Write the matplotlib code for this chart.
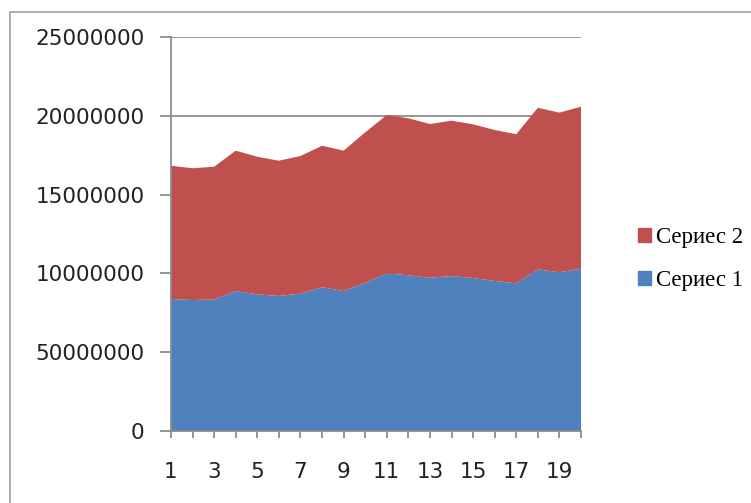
import matplotlib
matplotlib.use("Agg")
import matplotlib.pyplot as plt
import matplotlib.patches as mpatches
import numpy as np

# -------------------------------
# Data
# -------------------------------
points = list(range(1, 21))
series1 = [8.38e6, 8.31e6, 8.35e6, 8.88e6, 8.67e6, 8.57e6, 8.72e6, 9.12e6, 8.88e6, 9.41e6,
           10.0e6, 9.88e6, 9.73e6, 9.83e6, 9.71e6, 9.52e6, 9.37e6, 10.26e6, 10.07e6, 10.30e6]
total = [16.83e6, 16.67e6, 16.77e6, 17.79e6, 17.40e6, 17.15e6, 17.45e6, 18.10e6, 17.79e6, 18.95e6,
         20.05e6, 19.84e6, 19.48e6, 19.69e6, 19.46e6, 19.10e6, 18.83e6, 20.51e6, 20.20e6, 20.58e6]
series2 = [t - s for t, s in zip(total, series1)]
series_names = ["Сериес 1", "Сериес 2"]
y_ticks = [0, 5000000, 10000000, 15000000, 20000000, 25000000]
y_tick_labels = ["0", "50000000", "10000000", "15000000", "20000000", "25000000"]
x_tick_labels = [str(p) if p % 2 == 1 else "" for p in points]

blue = "#4F81BD"
red = "#C0504D"
grid_gray = "#8C8C8C"

# -------------------------------
# Figure
# -------------------------------
W, H = 751, 503
fig = plt.figure(figsize=(W / 100, H / 100), dpi=100)

# outer chart border (cut off on the right and bottom)
border = mpatches.Rectangle((10 / W, -0.1), 1.2, 1 - 12 / H + 0.1, transform=fig.transFigure,
                            fill=False, edgecolor="#A6A6A6", linewidth=1.3)
fig.patches.append(border)

ax = fig.add_axes([171 / W, (H - 431) / H, 410 / W, 394 / H])
ax.stackplot(points, series1, series2, colors=[blue, red], labels=series_names, linewidth=0)

ax.set_xlim(1, 20)
ax.set_ylim(0, 25000000)
ax.set_yticks(y_ticks)
ax.set_yticklabels(y_tick_labels)
ax.set_xticks(points)
ax.set_xticklabels(x_tick_labels)

ax.set_axisbelow(True)
ax.yaxis.grid(True, color=grid_gray, linewidth=1.3)
for side in ["top", "right"]:
    ax.spines[side].set_visible(False)
for side in ["left", "bottom"]:
    ax.spines[side].set_color(grid_gray)
    ax.spines[side].set_linewidth(1.3)

ax.tick_params(axis="y", length=8, width=1.3, color=grid_gray, pad=11,
               labelsize=15.5, labelcolor="#222222")
ax.tick_params(axis="x", length=5, width=1.3, color=grid_gray, pad=17,
               labelsize=15.5, labelcolor="#222222")

# legend: series 2 on top
handles = [mpatches.Patch(color=red), mpatches.Patch(color=blue)]
fig.legend(handles, [series_names[1], series_names[0]], loc="center left",
           bbox_to_anchor=(622 / W, (H - 259) / H), frameon=False, borderpad=0.2,
           handlelength=0.55, handleheight=0.55, handletextpad=0.25, labelspacing=0.95,
           prop={"family": "Liberation Serif", "size": 16.5})

fig.savefig("out.png", dpi=100)
